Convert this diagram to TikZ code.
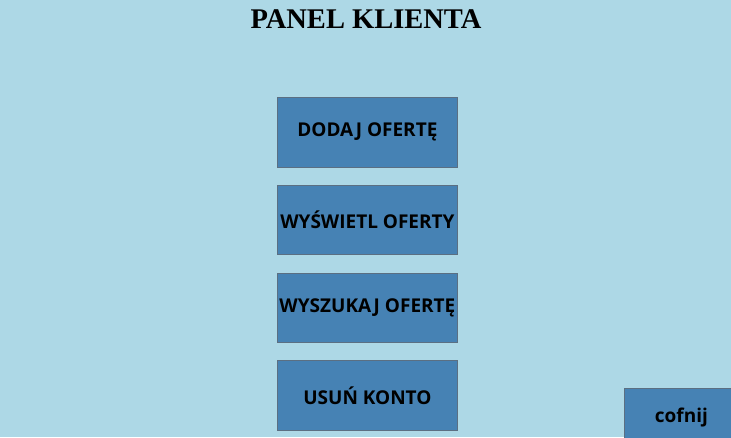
\documentclass[tikz,border=0pt]{standalone}
\usepackage{fontspec}
\setmainfont{Liberation Serif}
\setsansfont{Open Sans}
\usetikzlibrary{positioning}
\definecolor{panelbg}{HTML}{ADD8E6}
\definecolor{buttonfill}{HTML}{4682B4}
\definecolor{buttonedge}{HTML}{5B6F82}

\begin{document}
\begin{tikzpicture}[x=1pt,y=1pt,node distance=17.5pt,
    main button/.style={rectangle,draw=buttonedge,fill=buttonfill,line width=0.8pt,
      minimum width=180pt,minimum height=69.5pt,inner sep=0pt,
      font=\sffamily\bfseries\fontsize{19}{21}\selectfont}]
    \fill[panelbg] (0,0) rectangle (731,-437);
    \useasboundingbox (0,0) rectangle (731,-437);
    \node (title) at (366,-19) {\bfseries\fontsize{28.5}{32}\selectfont PANEL KLIENTA};
    \node[main button,anchor=north west] (add) at (277,-97) {DODAJ OFERTĘ};
    \node[main button] (show) [below=of add] {WYŚWIETL OFERTY};
    \node[main button] (search) [below=of show] {WYSZUKAJ OFERTĘ};
    \node[main button] (delete) [below=of search] {USUŃ KONTO};
    \node[main button,anchor=north west,minimum width=115pt,minimum height=60pt,
      text depth=0pt,font=\sffamily\bfseries\fontsize{19}{21}\selectfont] (back) at (624,-388)
      {\raisebox{6pt}{\hspace*{-1pt}cofnij}};
\end{tikzpicture}
\end{document}
